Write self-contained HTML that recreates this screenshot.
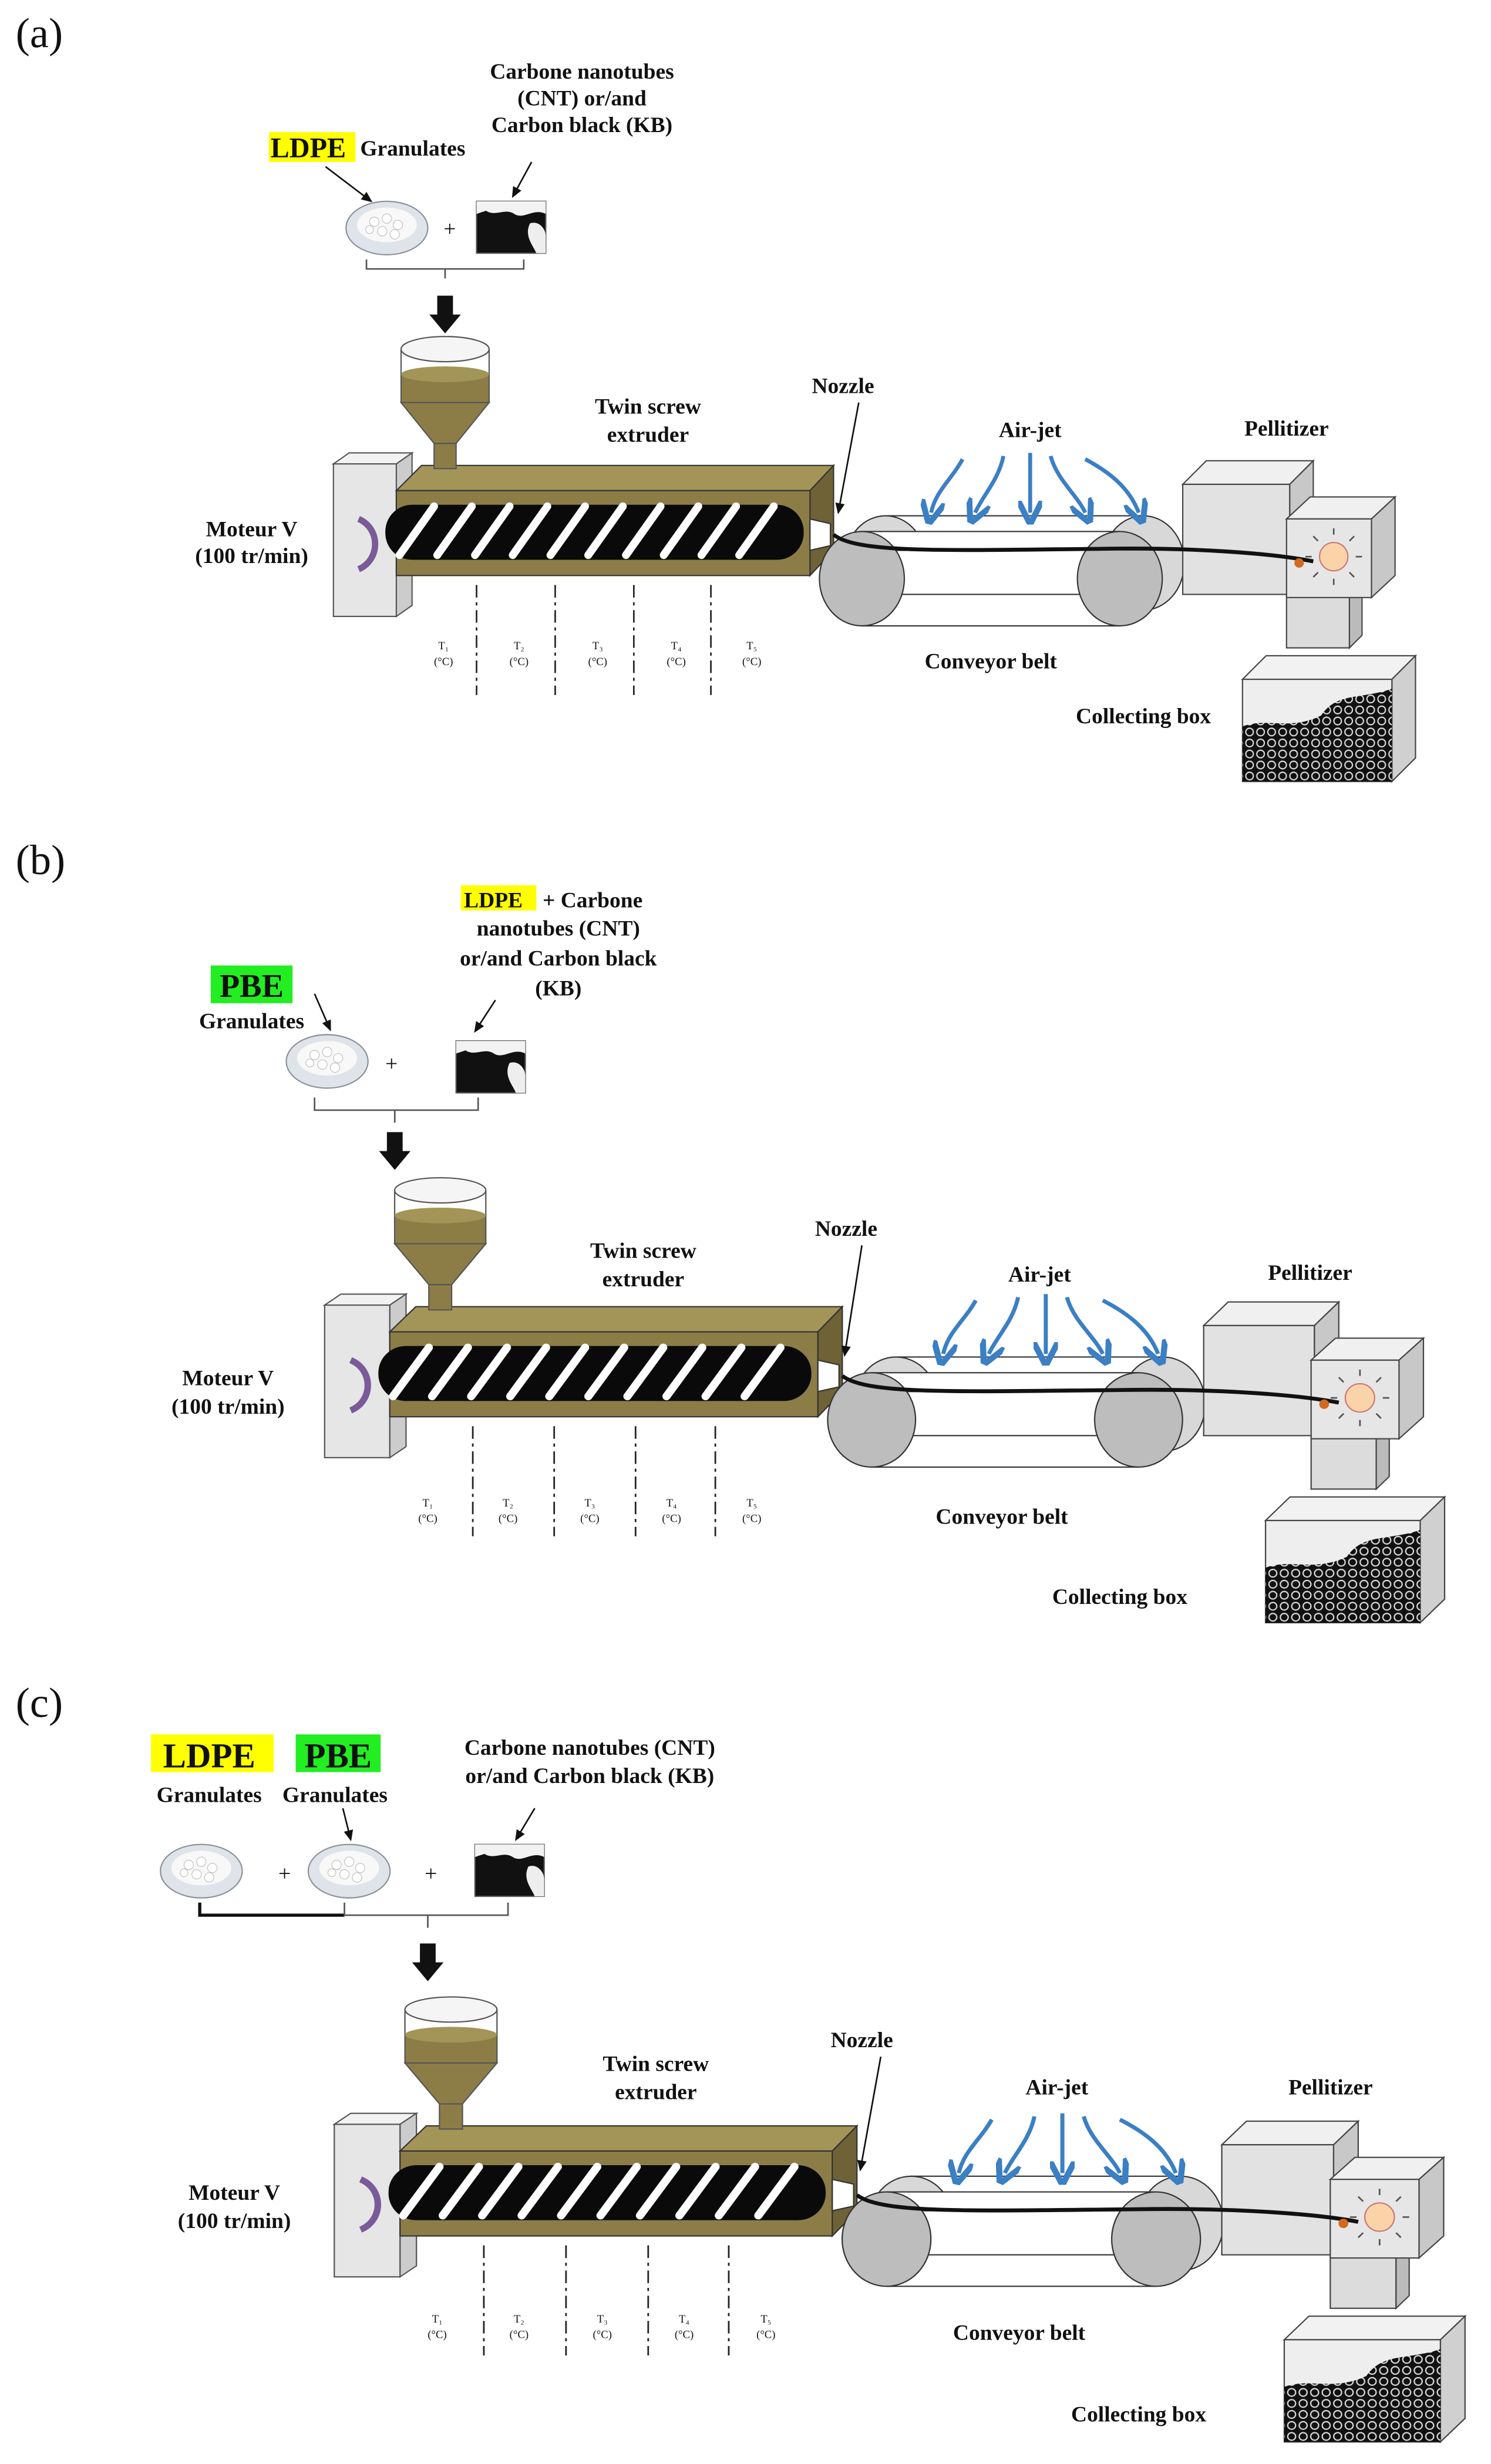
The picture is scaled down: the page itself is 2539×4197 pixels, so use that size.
<!DOCTYPE html>
<html><head><meta charset="utf-8"><style>
html,body{margin:0;padding:0;background:#fff}
svg{display:block}
text{font-family:"Liberation Serif",serif;font-weight:bold;fill:#111}
.lbl{font-size:27px;font-weight:normal}
.t{font-size:14px}
.s{font-size:7px;font-weight:normal}
</style></head><body>
<svg width="2539" height="4197" viewBox="0 0 948 1567" xmlns="http://www.w3.org/2000/svg">
<defs>
<pattern id="pel" width="7" height="7" patternUnits="userSpaceOnUse">
<rect width="7" height="7" fill="#111"/><circle cx="3.5" cy="3.5" r="2.4" fill="none" stroke="#ddd" stroke-width="0.8"/>
</pattern>
<marker id="ba" markerWidth="6" markerHeight="6" refX="3" refY="3" orient="auto"><path d="M0,0 L6,3 L0,6" fill="none" stroke="#3b7fc4" stroke-width="1.5"/></marker>
<marker id="ka" markerWidth="8" markerHeight="8" refX="6" refY="4" orient="auto"><path d="M0,1 L7,4 L0,7z" fill="#111"/></marker>
<g id="mach">
 <!-- motor -->
 <polygon points="212,295 222,288 262,288 252,295" fill="#f2f2f2" stroke="#555" stroke-width="0.8"/>
 <polygon points="252,295 262,288 262,385 252,392" fill="#ccc" stroke="#555" stroke-width="0.8"/>
 <rect x="212" y="295" width="40" height="97" fill="#e6e6e6" stroke="#555" stroke-width="0.8"/>
 <path d="M228,330 C242,336 242,356 228,362" fill="none" stroke="#7a5a99" stroke-width="4"/>
 <!-- extruder -->
 <polygon points="252,312 268,296 530,296 515,312" fill="#a39458" stroke="#333" stroke-width="0.8"/>
 <polygon points="515,312 530,296 530,350 515,366" fill="#6e6236" stroke="#333" stroke-width="0.8"/>
 <rect x="252" y="312" width="263" height="54" fill="#8c7d47" stroke="#333" stroke-width="0.8"/>
 <rect x="245" y="321" width="266" height="35" rx="17" fill="#0a0a0a"/>
 <g stroke="#fff" stroke-width="5" stroke-linecap="round">
  <line x1="254" y1="353" x2="276" y2="322"/><line x1="278" y1="353" x2="300" y2="322"/>
  <line x1="302" y1="353" x2="324" y2="322"/><line x1="326" y1="353" x2="348" y2="322"/>
  <line x1="350" y1="353" x2="372" y2="322"/><line x1="374" y1="353" x2="396" y2="322"/>
  <line x1="398" y1="353" x2="420" y2="322"/><line x1="422" y1="353" x2="444" y2="322"/>
  <line x1="446" y1="353" x2="468" y2="322"/><line x1="470" y1="353" x2="492" y2="322"/>
 </g>
 <polygon points="515,330 528,333 528,347 515,350" fill="#fff" stroke="#333" stroke-width="0.8"/>
 <!-- hopper -->
 <rect x="255" y="238" width="56" height="18" fill="#8c7d47"/>
 <path d="M255,222 V256 H311 V222" fill="none" stroke="#555" stroke-width="0.8"/>
 <ellipse cx="283" cy="222" rx="28" ry="8" fill="#f5f5f5" stroke="#555" stroke-width="0.8"/>
 <ellipse cx="283" cy="238" rx="28" ry="5" fill="#a39458"/>
 <polygon points="255,256 311,256 290,282 276,282" fill="#8c7d47" stroke="#555" stroke-width="0.8"/>
 <rect x="276" y="282" width="14" height="16" fill="#8c7d47" stroke="#555" stroke-width="0.8"/>
 <!-- dashed -->
 <g stroke="#222" stroke-width="1" stroke-dasharray="8,3,2,3">
  <line x1="303" y1="372" x2="303" y2="442"/><line x1="353" y1="372" x2="353" y2="442"/>
  <line x1="403" y1="372" x2="403" y2="442"/><line x1="452" y1="372" x2="452" y2="442"/>
 </g>
 <!-- conveyor -->
 <g stroke="#333" stroke-width="0.8">
  <ellipse cx="563" cy="358" rx="26" ry="30" fill="#d8d8d8"/>
  <ellipse cx="727" cy="358" rx="26" ry="30" fill="#d8d8d8"/>
  <line x1="563" y1="328" x2="727" y2="328"/><line x1="563" y1="388" x2="727" y2="388"/>
  <rect x="545" y="338" width="168" height="60" fill="#fff" stroke="none"/>
  <line x1="548" y1="338" x2="712" y2="338"/><line x1="548" y1="398" x2="712" y2="398"/>
  <line x1="560" y1="350" x2="700" y2="350"/><line x1="560" y1="378" x2="700" y2="378"/>
  <ellipse cx="548" cy="368" rx="27" ry="30" fill="#bdbdbd"/>
  <ellipse cx="712" cy="368" rx="27" ry="30" fill="#bdbdbd"/>
 </g>
 <!-- pellitizer -->
 <g stroke="#444" stroke-width="0.8">
  <polygon points="752,308 767,293 835,293 820,308" fill="#f0f0f0"/>
  <polygon points="820,308 835,293 835,363 820,378" fill="#c8c8c8"/>
  <rect x="752" y="308" width="68" height="70" fill="#e2e2e2"/>
  <rect x="818" y="378" width="40" height="34" fill="#dcdcdc"/>
  <polygon points="858,378 866,370 866,404 858,412" fill="#bbb"/>
  <polygon points="818,330 833,316 887,316 872,330" fill="#f0f0f0"/>
  <polygon points="872,330 887,316 887,366 872,380" fill="#c8c8c8"/>
  <rect x="818" y="330" width="54" height="50" fill="#e6e6e6"/>
 </g>
 <path d="M530,340 C545,352 600,350 700,349 C760,348 810,352 835,357" fill="none" stroke="#111" stroke-width="2.5"/>
 <circle cx="848" cy="354" r="9" fill="#fbd3a8" stroke="#c77" stroke-width="0.8"/>
 <g stroke="#555" stroke-width="1"><line x1="848" y1="340" x2="848" y2="336"/><line x1="848" y1="368" x2="848" y2="372"/><line x1="834" y1="354" x2="830" y2="354"/><line x1="862" y1="354" x2="866" y2="354"/><line x1="858" y1="344" x2="861" y2="341"/><line x1="838" y1="364" x2="835" y2="367"/><line x1="858" y1="364" x2="861" y2="367"/><line x1="838" y1="344" x2="835" y2="341"/></g>
 <circle cx="826" cy="358" r="3" fill="#d2691e"/>
 <!-- air jet -->
 <g fill="none" stroke="#3b7fc4" stroke-width="2.5" marker-end="url(#ba)">
  <path d="M612,292 C605,305 595,312 592,326"/>
  <path d="M638,290 C635,305 625,315 620,326"/>
  <path d="M655,288 L655,326"/>
  <path d="M668,290 C672,305 685,315 690,326"/>
  <path d="M690,292 C705,300 718,310 724,326"/>
 </g>
 <!-- collecting box -->
 <g stroke="#444" stroke-width="0.8">
  <polygon points="790,432 805,417 900,417 885,432" fill="#f2f2f2"/>
  <polygon points="885,432 900,417 900,482 885,497" fill="#d0d0d0"/>
  <rect x="790" y="432" width="95" height="65" fill="#eee"/>
 </g>
 <path d="M790,497 V462 C805,456 820,465 840,455 C850,440 865,445 885,438 V497z" fill="url(#pel)"/>
</g>
<g id="dish">
 <ellipse cx="0" cy="0" rx="26" ry="17" fill="#dfe4ea" stroke="#8a9099" stroke-width="0.8"/>
 <ellipse cx="0" cy="-2" rx="19" ry="11" fill="#f8f8f8"/>
 <g fill="#fff" stroke="#bbb" stroke-width="0.4"><circle cx="-8" cy="-4" r="3"/><circle cx="0" cy="-6" r="3"/><circle cx="7" cy="-2" r="3"/><circle cx="-3" cy="2" r="3"/><circle cx="5" cy="4" r="3"/><circle cx="-11" cy="1" r="2.5"/></g>
</g>
<g id="blk">
 <rect x="0" y="0" width="44" height="33" fill="#111" stroke="#555" stroke-width="0.8"/>
 <path d="M0,0 H44 V8 C36,4 30,12 24,8 C18,4 12,10 6,6 L0,8z" fill="#f2f2f2"/>
 <path d="M34,14 C40,12 44,18 44,22 V33 H38 C36,28 30,22 34,14z" fill="#eee"/>
</g>
<path id="arr" d="M-5,0 H5 V12 H10 L0,24 L-10,12 H-5z" fill="#111"/>
</defs>

<!-- (a) -->
<text x="10" y="30" class="lbl">(a)</text>
<text x="370" y="50" class="t" text-anchor="middle">Carbone nanotubes</text>
<text x="370" y="67" class="t" text-anchor="middle">(CNT) or/and</text>
<text x="370" y="84" class="t" text-anchor="middle">Carbon black (KB)</text>
<rect x="171" y="84" width="55" height="19" fill="#ffff00"/>
<text x="172" y="100" style="font-size:18px">LDPE</text>
<text x="229" y="99" class="t">Granulates</text>
<line x1="207" y1="106" x2="236" y2="128" stroke="#111" stroke-width="1" marker-end="url(#ka)"/>
<line x1="338" y1="103" x2="326" y2="125" stroke="#111" stroke-width="1" marker-end="url(#ka)"/>
<use href="#dish" x="246" y="145"/>
<text x="282" y="150" class="t" style="font-weight:normal">+</text>
<use href="#blk" x="303" y="128"/>
<path d="M233,165 v6 h100 v-6 M283,171 v6" fill="none" stroke="#555" stroke-width="1"/>
<use href="#arr" x="283" y="188"/>
<use href="#mach"/>
<text x="412" y="263" class="t" text-anchor="middle">Twin  screw</text>
<text x="412" y="281" class="t" text-anchor="middle">extruder</text>
<text x="536" y="250" class="t" text-anchor="middle">Nozzle</text>
<line x1="546" y1="256" x2="533" y2="326" stroke="#111" stroke-width="1" marker-end="url(#ka)"/>
<text x="655" y="278" class="t" text-anchor="middle">Air-jet</text>
<text x="818" y="277" class="t" text-anchor="middle">Pellitizer</text>
<text x="160" y="341" class="t" text-anchor="middle">Moteur V</text>
<text x="160" y="358" class="t" text-anchor="middle">(100 tr/min)</text>
<g class="s" text-anchor="middle"><text x="282" y="413" class="s">T₁</text><text x="282" y="423" class="s">(°C)</text><text x="330" y="413" class="s">T₂</text><text x="330" y="423" class="s">(°C)</text><text x="380" y="413" class="s">T₃</text><text x="380" y="423" class="s">(°C)</text><text x="430" y="413" class="s">T₄</text><text x="430" y="423" class="s">(°C)</text><text x="478" y="413" class="s">T₅</text><text x="478" y="423" class="s">(°C)</text></g>
<text x="630" y="425" class="t" text-anchor="middle">Conveyor belt</text>
<text x="727" y="460" class="t" text-anchor="middle">Collecting box</text>

<!-- (b) -->
<text x="10" y="556" class="lbl">(b)</text>
<rect x="293" y="563" width="48" height="16" fill="#ffff00"/>
<text x="295" y="577" class="t">LDPE</text>
<text x="345" y="577" class="t">+ Carbone</text>
<text x="355" y="595" class="t" text-anchor="middle">nanotubes (CNT)</text>
<text x="355" y="614" class="t" text-anchor="middle">or/and Carbon black</text>
<text x="355" y="633" class="t" text-anchor="middle">(KB)</text>
<rect x="134" y="614" width="52" height="24" fill="#22ee22"/>
<text x="160" y="634" text-anchor="middle" style="font-size:21px">PBE</text>
<text x="160" y="654" class="t" text-anchor="middle">Granulates</text>
<line x1="200" y1="632" x2="210" y2="655" stroke="#111" stroke-width="1" marker-end="url(#ka)"/>
<line x1="315" y1="636" x2="302" y2="656" stroke="#111" stroke-width="1" marker-end="url(#ka)"/>
<use href="#dish" x="208" y="675"/>
<text x="245" y="681" class="t" style="font-weight:normal">+</text>
<use href="#blk" x="290" y="662"/>
<path d="M200,698 v8 h104 v-8 M251,706 v8" fill="none" stroke="#555" stroke-width="1"/>
<use href="#arr" x="251" y="720"/>
<g transform="translate(-13,535) scale(1.035,1) translate(0,0)"><use href="#mach" transform="translate(0,0)"/></g>
<text x="409" y="800" class="t" text-anchor="middle">Twin  screw</text>
<text x="409" y="818" class="t" text-anchor="middle">extruder</text>
<text x="538" y="786" class="t" text-anchor="middle">Nozzle</text>
<line x1="548" y1="792" x2="537" y2="862" stroke="#111" stroke-width="1" marker-end="url(#ka)"/>
<text x="661" y="815" class="t" text-anchor="middle">Air-jet</text>
<text x="833" y="814" class="t" text-anchor="middle">Pellitizer</text>
<text x="145" y="881" class="t" text-anchor="middle">Moteur V</text>
<text x="145" y="899" class="t" text-anchor="middle">(100 tr/min)</text>
<g text-anchor="middle"><text x="272" y="958" class="s">T₁</text><text x="272" y="968" class="s">(°C)</text><text x="323" y="958" class="s">T₂</text><text x="323" y="968" class="s">(°C)</text><text x="375" y="958" class="s">T₃</text><text x="375" y="968" class="s">(°C)</text><text x="427" y="958" class="s">T₄</text><text x="427" y="968" class="s">(°C)</text><text x="478" y="958" class="s">T₅</text><text x="478" y="968" class="s">(°C)</text></g>
<text x="637" y="969" class="t" text-anchor="middle">Conveyor belt</text>
<text x="712" y="1020" class="t" text-anchor="middle">Collecting box</text>

<!-- (c) -->
<text x="10" y="1092" class="lbl">(c)</text>
<rect x="96" y="1103" width="78" height="24" fill="#ffff00"/>
<text x="133" y="1124" text-anchor="middle" style="font-size:22px">LDPE</text>
<rect x="188" y="1103" width="54" height="24" fill="#22ee22"/>
<text x="215" y="1124" text-anchor="middle" style="font-size:22px">PBE</text>
<text x="133" y="1146" class="t" text-anchor="middle">Granulates</text>
<text x="213" y="1146" class="t" text-anchor="middle">Granulates</text>
<text x="375" y="1116" class="t" text-anchor="middle">Carbone nanotubes (CNT)</text>
<text x="375" y="1134" class="t" text-anchor="middle">or/and Carbon black (KB)</text>
<line x1="218" y1="1150" x2="223" y2="1170" stroke="#111" stroke-width="1" marker-end="url(#ka)"/>
<line x1="340" y1="1150" x2="328" y2="1170" stroke="#111" stroke-width="1" marker-end="url(#ka)"/>
<use href="#dish" x="128" y="1190"/>
<text x="177" y="1196" class="t" style="font-weight:normal">+</text>
<use href="#dish" x="222" y="1190"/>
<text x="270" y="1196" class="t" style="font-weight:normal">+</text>
<use href="#blk" x="302" y="1173"/>
<path d="M127,1210 v8 h92" fill="none" stroke="#111" stroke-width="2"/>
<path d="M219,1210 v8 h104 v-8 M272,1218 v8" fill="none" stroke="#555" stroke-width="1"/>
<use href="#arr" x="272" y="1236"/>
<g transform="translate(-9,1056) scale(1.045,1)"><use href="#mach"/></g>
<text x="417" y="1317" class="t" text-anchor="middle">Twin  screw</text>
<text x="417" y="1335" class="t" text-anchor="middle">extruder</text>
<text x="548" y="1302" class="t" text-anchor="middle">Nozzle</text>
<line x1="560" y1="1308" x2="547" y2="1380" stroke="#111" stroke-width="1" marker-end="url(#ka)"/>
<text x="672" y="1332" class="t" text-anchor="middle">Air-jet</text>
<text x="846" y="1332" class="t" text-anchor="middle">Pellitizer</text>
<text x="149" y="1399" class="t" text-anchor="middle">Moteur V</text>
<text x="149" y="1417" class="t" text-anchor="middle">(100 tr/min)</text>
<g text-anchor="middle"><text x="278" y="1477" class="s">T₁</text><text x="278" y="1487" class="s">(°C)</text><text x="330" y="1477" class="s">T₂</text><text x="330" y="1487" class="s">(°C)</text><text x="383" y="1477" class="s">T₃</text><text x="383" y="1487" class="s">(°C)</text><text x="435" y="1477" class="s">T₄</text><text x="435" y="1487" class="s">(°C)</text><text x="487" y="1477" class="s">T₅</text><text x="487" y="1487" class="s">(°C)</text></g>
<text x="648" y="1488" class="t" text-anchor="middle">Conveyor belt</text>
<text x="724" y="1540" class="t" text-anchor="middle">Collecting box</text>
</svg>
</body></html>
